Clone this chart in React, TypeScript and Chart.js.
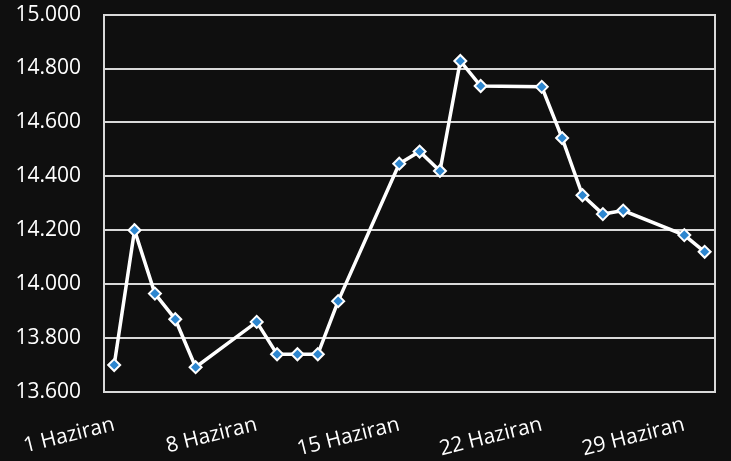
import React, { useEffect, useRef } from "react";
import { Chart, registerables } from "chart.js";
Chart.register(...registerables);

const days: number[] = Array.from({ length: 30 }, (_, i) => i + 1);
const categories: string[] = days.map((d) => `${d} Haziran`);
const shownTickDays: number[] = [1, 8, 15, 22, 29];
const values: (number | null)[] = [
  13700, 14200, 13965, 13870, 13692, null, null,
  13860, 13740, 13740, 13740, 13937, null, null,
  14447, 14492, 14420, 14828, 14735, null, null,
  14732, 14542, 14330, 14260, 14273, null, null,
  14182, 14120,
];
const yMin = 13600;
const yMax = 15000;
const yStep = 200;

const fmt = (v: number) => String(Math.round(v)).replace(/\B(?=(\d{3})+(?!\d))/g, ".");

export default function App() {
  const ref = useRef<HTMLCanvasElement>(null);
  useEffect(() => {
    if (!ref.current) return;
    const gridColor = "#d9d9d9";
    const font = { family: "Open Sans", size: 21 };
    const chart = new Chart(ref.current, {
      type: "line",
      data: {
        labels: categories,
        datasets: [
          {
            data: values,
            borderColor: "#ffffff",
            borderWidth: 3.5,
            pointStyle: "rectRot",
            pointRadius: 6,
            pointBackgroundColor: "#2d86cf",
            pointBorderColor: "#ffffff",
            pointBorderWidth: 2,
            spanGaps: true,
            tension: 0,
          },
        ],
      },
      options: {
        animation: false,
        responsive: false,
        layout: { padding: { top: 0, right: 15, left: 0, bottom: 0 } },
        plugins: { legend: { display: false }, tooltip: { enabled: false } },
        scales: {
          x: {
            offset: true,
            grid: { display: false, drawTicks: false },
            border: { display: true, color: gridColor, width: 2 },
            ticks: {
              autoSkip: false,
              color: "#ffffff",
              font,
              padding: 20,
              minRotation: 14,
              maxRotation: 14,
              callback: (_v: any, i: number) =>
                shownTickDays.includes(days[i]) ? categories[i] : "",
            },
            afterFit: (s: any) => {
              s.height = 69;
            },
          },
          y: {
            min: yMin,
            max: yMax,
            grid: {
              color: gridColor,
              lineWidth: 2,
              drawTicks: true,
              tickLength: 21,
              tickColor: "rgba(0,0,0,0)",
            },
            border: { display: true, color: gridColor, width: 2 },
            ticks: {
              stepSize: yStep,
              color: "#ffffff",
              font,
              padding: 2,
              callback: (v: any) => fmt(Number(v)),
            },
            afterFit: (s: any) => {
              s.width = 104;
            },
          },
          y2: {
            position: "right",
            min: yMin,
            max: yMax,
            grid: { display: false, drawTicks: false },
            border: { display: true, color: gridColor, width: 2 },
            ticks: { display: false },
            afterFit: (s: any) => {
              s.width = 0;
            },
          },
        },
      },
    } as any);
    return () => chart.destroy();
  }, []);
  return (
    <div
      style={{
        position: "fixed",
        left: 0,
        top: 0,
        width: 731,
        height: 461,
        background: "#0f0f0f",
      }}
    >
      <canvas ref={ref} width={731} height={461} style={{ display: "block" }} />
    </div>
  );
}
